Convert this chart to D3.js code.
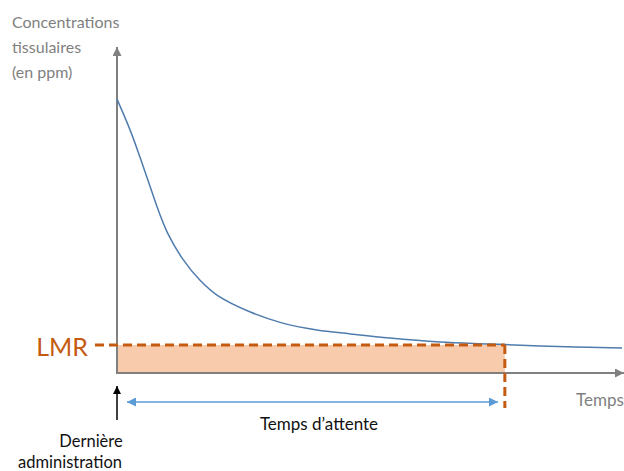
<!DOCTYPE html>
<html><head><meta charset="utf-8">
<script src="https://cdn.jsdelivr.net/npm/d3@7"></script>
<style>body{margin:0;background:#fff}svg{display:block}text{font-family:Lato,"Open Sans",sans-serif}</style>
</head><body><svg id="c" width="624" height="471"></svg>
<script>
// Data
const times = [0, 1.3, 2.3, 3.3, 4.2, 5.0, 6.5, 8.2, 9.9, 13.2, 16.4, 19.8, 23.1, 27.0, 32.0, 36.9, 41.9, 50];
const concentrations = [84, 74.5, 66, 57, 49, 43, 35, 28.5, 23.9, 18.7, 15.3, 13.2, 12.0, 10.7, 9.5, 8.9, 8.3, 7.7];
const lmr = 8.6;
const withdrawalTime = 38.4;
const yTitle = ["Concentrations", "tissulaires", "(en ppm)"];
const xTitle = "Temps";
const waitLabel = "Temps d\u2019attente";
const lastAdmin = ["Derni\u00e8re", "administration"];

const svg = d3.select("#c");
const x = d3.scaleLinear().domain([0, 50]).range([117, 622]);
const y = d3.scaleLinear().domain([0, 100]).range([373, 47]);
const gray = "#808080", orange = "#c55a11", blue = "#5b9bd5";

const defs = svg.append("defs");
function marker(id, color, w, h) {
  defs.append("marker").attr("id", id).attr("viewBox", "0 0 10 10").attr("refX", 10).attr("refY", 5)
    .attr("markerUnits", "userSpaceOnUse").attr("markerWidth", w).attr("markerHeight", h).attr("orient", "auto-start-reverse")
    .append("path").attr("d", "M0,0L10,5L0,10z").attr("fill", color);
}
marker("ag", gray, 11, 9);
marker("ab", blue, 13, 9);
marker("ak", "#000", 10, 8);

// shaded area
svg.append("rect").attr("x", x(0)).attr("y", y(lmr)).attr("width", x(withdrawalTime) - x(0))
  .attr("height", y(0) - y(lmr)).attr("fill", "#f8cbad");

// axes
svg.append("line").attr("x1", x(0)).attr("y1", y(0)).attr("x2", x(0)).attr("y2", y(100))
  .attr("stroke", gray).attr("stroke-width", 2).attr("marker-end", "url(#ag)");
svg.append("line").attr("x1", x(0) - 1).attr("y1", y(0)).attr("x2", 624).attr("y2", y(0))
  .attr("stroke", gray).attr("stroke-width", 2).attr("marker-end", "url(#ag)");

// curve
const line = d3.line().x((d, i) => x(times[i])).y(d => y(d)).curve(d3.curveCatmullRom.alpha(0.5));
svg.append("path").attr("d", line(concentrations)).attr("fill", "none").attr("stroke", "#4f7cad").attr("stroke-width", 1.5);

// LMR dashed
svg.append("line").attr("x1", 95).attr("y1", y(lmr)).attr("x2", x(withdrawalTime)).attr("y2", y(lmr))
  .attr("stroke", orange).attr("stroke-width", 3).attr("stroke-dasharray", "9,5");
svg.append("line").attr("x1", x(withdrawalTime)).attr("y1", y(lmr)).attr("x2", x(withdrawalTime)).attr("y2", 408)
  .attr("stroke", orange).attr("stroke-width", 3).attr("stroke-dasharray", "9,5");
svg.append("text").attr("x", 88).attr("y", 356).attr("text-anchor", "end").attr("fill", orange)
  .attr("font-size", 25).text("LMR");

// withdrawal arrow
svg.append("line").attr("x1", 127).attr("y1", 402).attr("x2", 498).attr("y2", 402)
  .attr("stroke", blue).attr("stroke-width", 1.6).attr("marker-start", "url(#ab)").attr("marker-end", "url(#ab)");
svg.append("text").attr("x", 319).attr("y", 430).attr("text-anchor", "middle").attr("fill", "#111")
  .attr("font-size", 17).text(waitLabel);

// last administration arrow
svg.append("line").attr("x1", x(0)).attr("y1", 420).attr("x2", x(0)).attr("y2", 386)
  .attr("stroke", "#000").attr("stroke-width", 1.5).attr("marker-end", "url(#ak)");
svg.append("text").attr("x", 91).attr("y", 447).attr("text-anchor", "middle").attr("fill", "#111")
  .attr("font-size", 16.5).text(lastAdmin[0]);
svg.append("text").attr("x", 70).attr("y", 468).attr("text-anchor", "middle").attr("fill", "#111")
  .attr("font-size", 16.5).text(lastAdmin[1]);

// titles
yTitle.forEach((t, i) => svg.append("text").attr("x", 12).attr("y", 28 + i * 25).attr("fill", "#7f7f7f")
  .attr("font-size", 16).text(t));
svg.append("text").attr("x", 576).attr("y", 406).attr("fill", "#7f7f7f").attr("font-size", 17).text(xTitle);
</script></body></html>
